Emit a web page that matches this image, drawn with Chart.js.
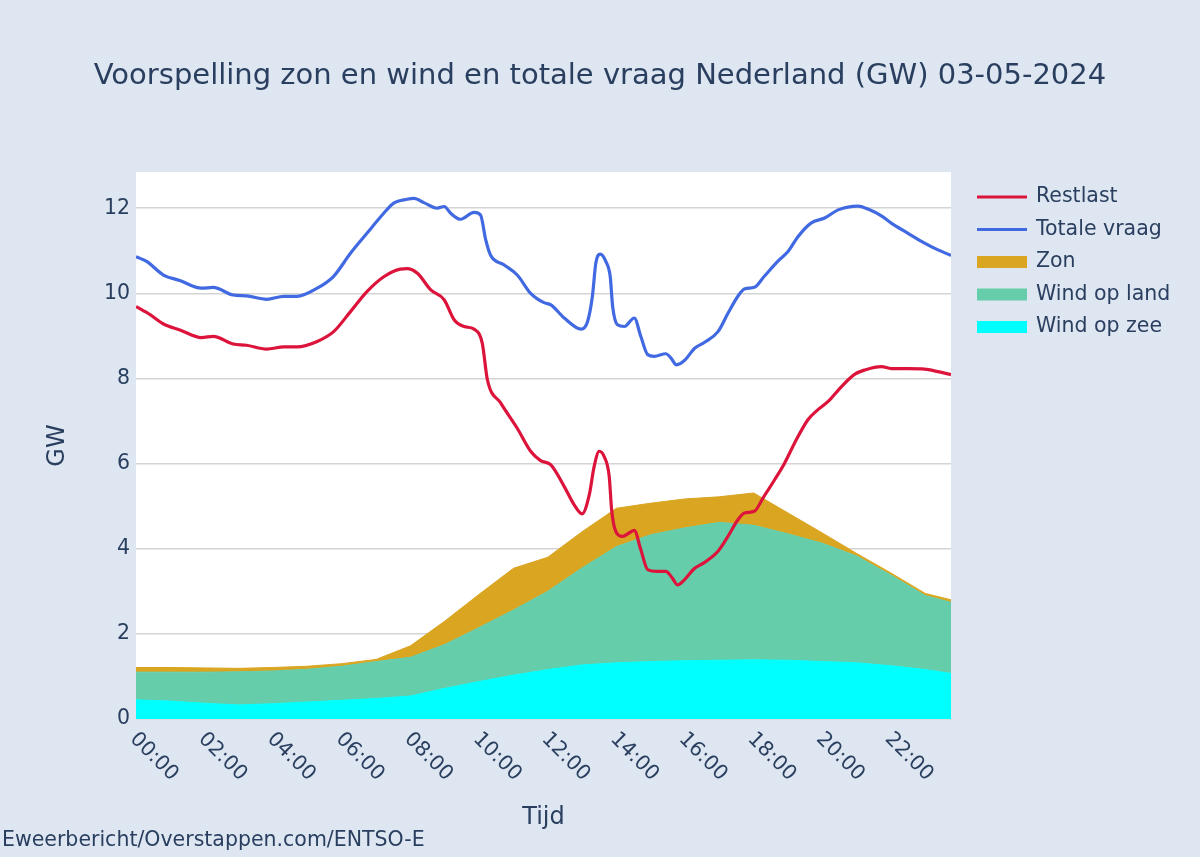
<!DOCTYPE html>
<html>
<head>
<meta charset="utf-8">
<script src="https://cdn.jsdelivr.net/npm/chart.js@4.4.1/dist/chart.umd.min.js"></script>
<style>
  html, body { margin: 0; padding: 0; background: #dde6f1; }
  #wrap { width: 1200px; height: 857px; }
</style>
</head>
<body>
<div id="wrap"><canvas id="myChart" width="1200" height="857"></canvas></div>
<script>
// uren voor de opwek (uurwaarden, laatste kwartier 23:45)
const opwekUren = [0, 1, 2, 3, 4, 5, 6, 7, 8, 9, 10, 11, 12, 13, 14, 15, 16, 17, 18, 19, 20, 21, 22, 23, 23.75];
const windZee  = [0.45, 0.42, 0.37, 0.33, 0.36, 0.40, 0.44, 0.48, 0.54, 0.72, 0.88, 1.03, 1.16, 1.27, 1.32, 1.35, 1.37, 1.38, 1.39, 1.38, 1.35, 1.32, 1.25, 1.16, 1.07];
const windLand = [0.65, 0.68, 0.73, 0.78, 0.77, 0.77, 0.80, 0.87, 0.91, 1.03, 1.27, 1.53, 1.84, 2.28, 2.73, 2.98, 3.12, 3.24, 3.16, 2.97, 2.78, 2.51, 2.13, 1.74, 1.67];
const zon      = [0.11, 0.11, 0.10, 0.08, 0.08, 0.07, 0.06, 0.05, 0.27, 0.55, 0.78, 0.98, 0.80, 0.85, 0.90, 0.74, 0.68, 0.60, 0.76, 0.49, 0.24, 0.06, 0.05, 0.05, 0.06];

// totale vraag
const vraagUren = [0, 0.31, 0.8, 1.28, 1.91, 2.25, 2.83, 3.22, 3.81, 4.31, 4.69, 5.28, 5.76, 6.25, 6.73, 7.22, 7.51, 7.9, 8.1,
  8.39, 8.78, 8.98, 9.17, 9.46, 9.85, 10.04, 10.19, 10.33, 10.72, 11.11, 11.5, 11.89, 12.09, 12.48, 12.97, 13.16, 13.3, 13.4,
  13.53, 13.69, 13.82, 13.89, 14.03, 14.23, 14.52, 14.71, 14.91, 15.1, 15.44, 15.59, 15.75, 15.98, 16.28, 16.57, 16.96, 17.25,
  17.54, 17.73, 18.02, 18.31, 18.7, 19.0, 19.29, 19.67, 20.07, 20.46, 21.04, 21.33, 21.72, 22.01, 22.5, 22.98, 23.37, 23.75];
const vraagGW = [10.86, 10.75, 10.43, 10.30, 10.12, 10.14, 9.96, 9.94, 9.86, 9.93, 9.93, 10.12, 10.40, 10.94, 11.41, 11.88, 12.12, 12.21, 12.23,
  12.13, 12.0, 12.04, 11.88, 11.74, 11.9, 11.84, 11.26, 10.9, 10.67, 10.43, 10.0, 9.78, 9.73, 9.42, 9.16, 9.34, 9.93, 10.71,
  10.92, 10.75, 10.39, 9.69, 9.26, 9.22, 9.42, 8.99, 8.56, 8.52, 8.58, 8.48, 8.32, 8.42, 8.71, 8.85, 9.1, 9.53,
  9.93, 10.10, 10.14, 10.40, 10.75, 10.98, 11.33, 11.65, 11.77, 11.96, 12.05, 11.98, 11.82, 11.65, 11.41, 11.18, 11.02, 10.89];

// restlast
const restUren = [0, 0.41, 0.8, 1.28, 1.91, 2.25, 2.83, 3.22, 3.81, 4.31, 4.69, 5.28, 5.76, 6.25, 6.73, 7.22, 7.7, 7.9, 8.2,
  8.59, 8.98, 9.27, 9.56, 9.85, 10.09, 10.24, 10.63, 11.11, 11.5, 11.79, 12.09, 12.48, 12.77, 13.0, 13.21, 13.35, 13.5, 13.64,
  13.79, 13.86, 13.98, 14.18, 14.37, 14.52, 14.71, 14.91, 15.2, 15.44, 15.63, 15.78, 15.98, 16.28, 16.57, 16.96, 17.25, 17.54,
  17.73, 18.02, 18.27, 18.61, 18.9, 19.19, 19.58, 19.85, 20.17, 20.56, 20.95, 21.24, 21.72, 22.01, 22.5, 22.98, 23.37, 23.75];
const restGW = [9.69, 9.50, 9.28, 9.14, 8.96, 8.99, 8.81, 8.78, 8.69, 8.74, 8.74, 8.87, 9.10, 9.57, 10.04, 10.39, 10.57, 10.58, 10.47,
  10.08, 9.85, 9.38, 9.22, 9.16, 8.83, 7.97, 7.42, 6.83, 6.29, 6.07, 5.97, 5.46, 5.03, 4.82, 5.27, 5.93, 6.29, 6.17,
  5.70, 4.92, 4.41, 4.29, 4.37, 4.43, 3.98, 3.51, 3.47, 3.47, 3.31, 3.15, 3.27, 3.54, 3.68, 3.94, 4.29, 4.68,
  4.84, 4.88, 5.19, 5.62, 6.01, 6.48, 7.03, 7.25, 7.46, 7.81, 8.10, 8.20, 8.28, 8.23, 8.23, 8.22, 8.16, 8.09];

const yTicks = [0, 2, 4, 6, 8, 10, 12];
const xTickUren = [0, 2, 4, 6, 8, 10, 12, 14, 16, 18, 20, 22];

const titelTekst = 'Voorspelling zon en wind en totale vraag Nederland (GW) 03-05-2024';
const bronTekst = 'Eweerbericht/Overstappen.com/ENTSO-E';
const textColor = '#2a3f5f';
const fontFam = '"DejaVu Sans", sans-serif';

function toPoints(xs, ys) {
    return xs.map((x, i) => ({ x: x, y: ys[i] }));
}

function uurLabel(h) {
    const hh = Math.floor(h);
    const mm = Math.round((h - hh) * 60);
    return String(hh).padStart(2, '0') + ':' + String(mm).padStart(2, '0');
}

// achtergrond, titel, gedraaide x labels, legenda en bron
const plotExtras = {
    id: 'plotExtras',
    beforeDraw(chart) {
        const { ctx, chartArea } = chart;
        ctx.save();
        ctx.fillStyle = '#dde6f1';
        ctx.fillRect(0, 0, chart.width, chart.height);
        ctx.fillStyle = '#ffffff';
        ctx.fillRect(chartArea.left, chartArea.top, chartArea.right - chartArea.left, chartArea.bottom - chartArea.top);
        ctx.restore();
    },
    afterDraw(chart) {
        const { ctx, chartArea } = chart;
        const xScale = chart.scales.x;
        ctx.save();
        ctx.fillStyle = textColor;
        ctx.textBaseline = 'middle';

        ctx.font = '29px ' + fontFam;
        ctx.textAlign = 'center';
        ctx.fillText(titelTekst, 600, 76);

        ctx.font = '20.5px ' + fontFam;
        ctx.textAlign = 'left';
        xScale.ticks.forEach((t) => {
            const px = xScale.getPixelForValue(t.value);
            ctx.save();
            ctx.translate(px - 3, chartArea.bottom + 17);
            ctx.rotate(Math.PI / 4);
            ctx.fillText(uurLabel(t.value), 0, 0);
            ctx.restore();
        });

        // legenda
        const legendOrder = [0, 1, 2, 3, 4];
        let ly = 197;
        legendOrder.forEach((i) => {
            const ds = chart.data.datasets[i];
            if (ds.fill === false) {
                ctx.fillStyle = ds.borderColor;
                ctx.fillRect(977, ly - 1.5, 50, 3);
            } else {
                ctx.fillStyle = ds.backgroundColor;
                ctx.fillRect(977, ly - 6, 50, 12);
            }
            ctx.fillStyle = textColor;
            ctx.fillText(ds.label, 1036, ly);
            ly += 32.5;
        });

        // bron
        ctx.fillText(bronTekst, 2, 841);
        ctx.restore();
    }
};

function mainEvent() {
    const chartTarget = document.querySelector('#myChart');
    const data = {
        datasets: [
            {
                label: 'Restlast', data: toPoints(restUren, restGW), borderColor: '#dc143c', borderWidth: 3.2,
                pointRadius: 0, fill: false, cubicInterpolationMode: 'monotone', stack: 'r', order: 0
            },
            {
                label: 'Totale vraag', data: toPoints(vraagUren, vraagGW), borderColor: '#4169e1', borderWidth: 3.2,
                pointRadius: 0, fill: false, cubicInterpolationMode: 'monotone', stack: 'v', order: 1
            },
            {
                label: 'Zon', data: toPoints(opwekUren, zon), borderColor: '#daa520', backgroundColor: '#daa520',
                borderWidth: 1, pointRadius: 0, fill: 3, stack: 'opwek', order: 4
            },
            {
                label: 'Wind op land', data: toPoints(opwekUren, windLand), borderColor: '#66cdaa', backgroundColor: '#66cdaa',
                borderWidth: 1, pointRadius: 0, fill: 4, stack: 'opwek', order: 3
            },
            {
                label: 'Wind op zee', data: toPoints(opwekUren, windZee), borderColor: '#00ffff', backgroundColor: '#00ffff',
                borderWidth: 1, pointRadius: 0, fill: 'origin', stack: 'opwek', order: 2
            }
        ]
    };

    const config = {
        type: 'line',
        data: data,
        plugins: [plotExtras],
        options: {
            responsive: false,
            animation: false,
            layout: { padding: { top: 172, right: 249, bottom: 0, left: 0 } },
            plugins: {
                legend: { display: false },
                tooltip: { enabled: false },
                title: { display: false }
            },
            scales: {
                x: {
                    type: 'linear',
                    min: 0,
                    max: 23.75,
                    afterBuildTicks: (scale) => { scale.ticks = xTickUren.map((v) => ({ value: v })); },
                    ticks: { display: false },
                    grid: { display: false },
                    border: { display: false },
                    title: {
                        display: true, text: 'Tijd', color: textColor,
                        font: { family: fontFam, size: 24 }, padding: { bottom: 25 }
                    },
                    afterFit: (scale) => { scale.height = 138; }
                },
                y: {
                    stacked: true,
                    min: 0,
                    max: 12.85,
                    afterBuildTicks: (scale) => { scale.ticks = yTicks.map((v) => ({ value: v })); },
                    ticks: {
                        color: textColor, padding: 6,
                        font: { family: fontFam, size: 20.5 }
                    },
                    grid: { color: '#d4d4d4', lineWidth: 1.5, drawTicks: false },
                    border: { display: false },
                    title: {
                        display: true, text: 'GW', color: textColor,
                        font: { family: fontFam, size: 24 }, padding: { top: 43 }
                    },
                    afterFit: (scale) => { scale.width = 136; }
                }
            }
        }
    };
    return new Chart(chartTarget, config);
}

document.addEventListener('DOMContentLoaded', () => mainEvent());
</script>
</body>
</html>
